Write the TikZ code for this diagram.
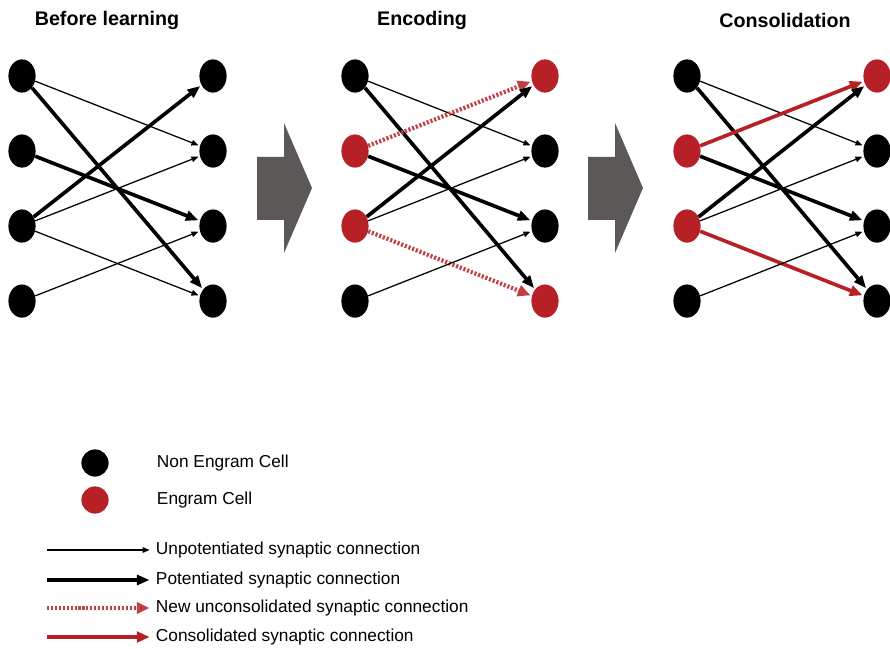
\documentclass[tikz,border=0pt]{standalone}
\usepackage{fontspec}
\setmainfont{Liberation Sans}
\usetikzlibrary{shapes.geometric,arrows.meta,positioning}
\definecolor{engram}{RGB}{183,32,38}
\definecolor{stagegrey}{RGB}{92,88,87}

\begin{document}
\begin{tikzpicture}[x=0.025cm,y=-0.025cm,node distance=1.875cm]
	\tikzstyle{cell} = [ellipse, fill=black, inner sep=0pt, minimum width=0.68cm, minimum height=0.83cm];
	\tikzstyle{redcell} = [cell, fill=engram];
	\tikzstyle{weak} = [line width=0.9pt, -{Triangle[length=5pt,width=4pt]}, shorten >=1pt];
	\tikzstyle{strong} = [line width=2.6pt, -{Triangle[length=9pt,width=7pt]}, shorten >=1pt];
	\tikzstyle{newsyn} = [draw=engram!85!white, line width=3pt, dash pattern=on 1.5pt off 1.3pt, -{Triangle[length=9pt,width=8pt,fill=engram]}, shorten >=1pt];
	\tikzstyle{consol} = [draw=engram, line width=2.6pt, -{Triangle[length=9pt,width=7.5pt,fill=engram]}, shorten >=1pt];
	\tikzstyle{title} = [font=\bfseries\fontsize{14}{16}\selectfont];
	\tikzstyle{legend} = [anchor=west, font=\fontsize{12.3}{14}\selectfont];
	\tikzstyle{stage} = [fill=stagegrey];

	\useasboundingbox (0,0) rectangle (890,649);

	% Before learning
	\draw node [title] (t1) at (107,20) {Before learning};
	\draw node [cell] (bl1) at (22,76) {};
	\draw node [cell, below of=bl1] (bl2) {};
	\draw node [cell, below of=bl2] (bl3) {};
	\draw node [cell, below of=bl3] (bl4) {};
	\draw node [cell] (br1) at (213,76) {};
	\draw node [cell, below of=br1] (br2) {};
	\draw node [cell, below of=br2] (br3) {};
	\draw node [cell, below of=br3] (br4) {};

	\draw [weak] (bl1) -- (br2);
	\draw [strong] (bl1) -- (br4);
	\draw [strong] (bl2) -- (br3);
	\draw [strong] (bl3) -- (br1);
	\draw [weak] (bl3) -- (br2);
	\draw [weak] (bl3) -- (br4);
	\draw [weak] (bl4) -- (br3);

	\fill [stage] (257,157) -- (284,157) -- (284,123) -- (312,188) -- (284,253) -- (284,220) -- (257,220) -- cycle;

	% Encoding
	\draw node [title] (t2) at (422,20) {Encoding};
	\draw node [cell] (el1) at (355,76) {};
	\draw node [redcell, below of=el1] (el2) {};
	\draw node [redcell, below of=el2] (el3) {};
	\draw node [cell, below of=el3] (el4) {};
	\draw node [redcell] (er1) at (545,76) {};
	\draw node [cell, below of=er1] (er2) {};
	\draw node [cell, below of=er2] (er3) {};
	\draw node [redcell, below of=er3] (er4) {};

	\draw [weak] (el1) -- (er2);
	\draw [strong] (el1) -- (er4);
	\draw [newsyn] (el2) -- (er1);
	\draw [strong] (el2) -- (er3);
	\draw [strong] (el3) -- (er1);
	\draw [weak] (el3) -- (er2);
	\draw [newsyn] (el3) -- (er4);
	\draw [weak] (el4) -- (er3);

	\fill [stage] (588,157) -- (615,157) -- (615,123) -- (643,188) -- (615,253) -- (615,220) -- (588,220) -- cycle;

	% Consolidation
	\draw node [title] (t3) at (785,20) {Consolidation};
	\draw node [cell] (cl1) at (687,76) {};
	\draw node [redcell, below of=cl1] (cl2) {};
	\draw node [redcell, below of=cl2] (cl3) {};
	\draw node [cell, below of=cl3] (cl4) {};
	\draw node [redcell] (cr1) at (877,76) {};
	\draw node [cell, below of=cr1] (cr2) {};
	\draw node [cell, below of=cr2] (cr3) {};
	\draw node [cell, below of=cr3] (cr4) {};

	\draw [weak] (cl1) -- (cr2);
	\draw [strong] (cl1) -- (cr4);
	\draw [consol] (cl2) -- (cr1);
	\draw [strong] (cl2) -- (cr3);
	\draw [strong] (cl3) -- (cr1);
	\draw [weak] (cl3) -- (cr2);
	\draw [consol] (cl3) -- (cr4);
	\draw [weak] (cl4) -- (cr3);

	% legend
	\draw node [cell, minimum height=0.68cm] (lgnon) at (95,463) {};
	\draw node [legend] (lgnontext) at (152,463) {Non Engram Cell};
	\draw node [redcell, minimum height=0.68cm] (lgeng) at (95,500) {};
	\draw node [legend] (lgengtext) at (152,500) {Engram Cell};

	\coordinate (lw) at (47,550);
	\coordinate (ls) at (47,580);
	\coordinate (ln) at (47,608);
	\coordinate (lc) at (47,637);
	\draw node [legend] (lgweak) at (151,550) {Unpotentiated synaptic connection};
	\draw node [legend] (lgstrong) at (151,580) {Potentiated synaptic connection};
	\draw node [legend] (lgnew) at (151,608) {New unconsolidated synaptic connection};
	\draw node [legend] (lgcons) at (151,637) {Consolidated synaptic connection};
	\draw [weak] (lw) -- (lgweak);
	\draw [strong] (ls) -- (lgstrong);
	\draw [newsyn] (ln) -- (lgnew);
	\draw [consol] (lc) -- (lgcons);
\end{tikzpicture}
\end{document}
